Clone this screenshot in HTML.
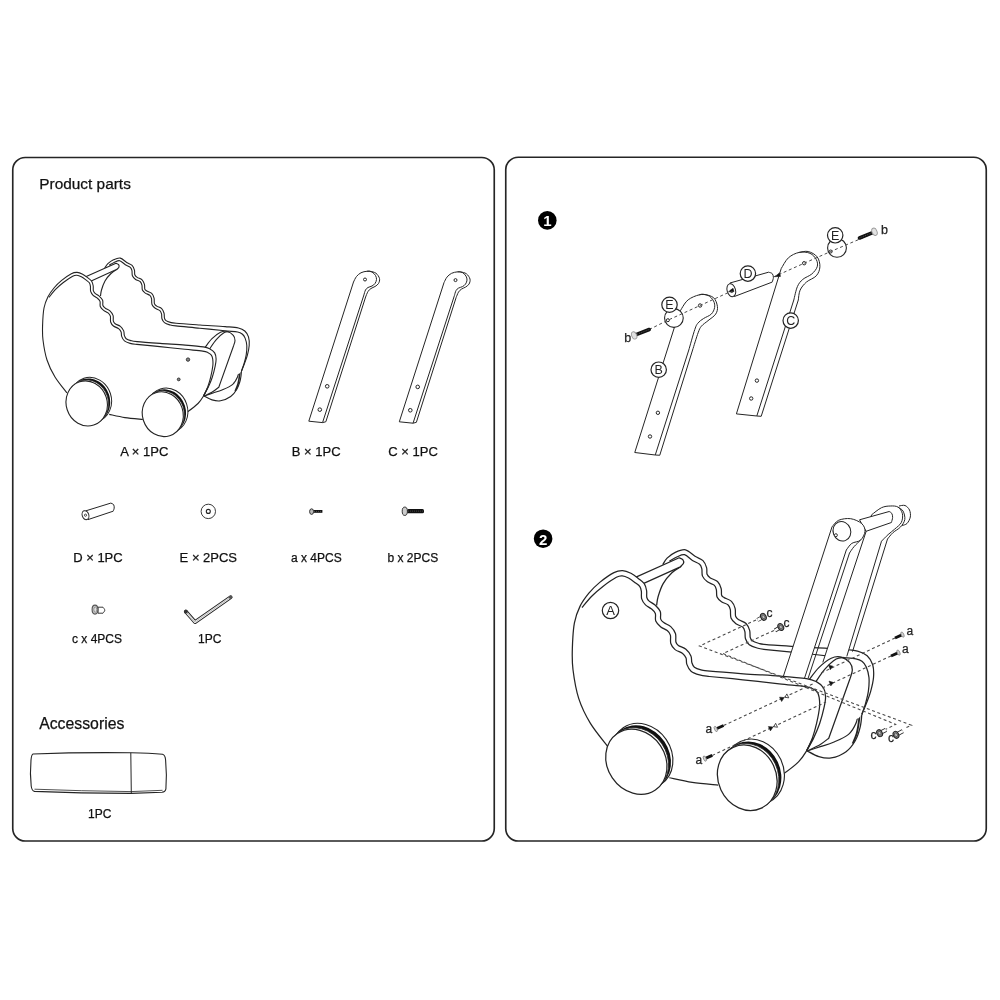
<!DOCTYPE html>
<html><head><meta charset="utf-8"><style>
html,body{margin:0;padding:0;background:#fff;}
svg{display:block;font-family:"Liberation Sans",sans-serif;will-change:transform;}
</style></head><body>
<svg width="1000" height="1000" viewBox="0 0 1000 1000">
<rect x="12.75" y="157.5" width="481.5" height="683.5" rx="12.5" fill="none" stroke="#252525" stroke-width="1.65"/>
<rect x="505.75" y="157.25" width="480.5" height="683.75" rx="12.5" fill="none" stroke="#252525" stroke-width="1.65"/>
<text x="39.3" y="189.3" font-size="15.4" text-anchor="start" font-weight="normal" fill="#111" stroke="#111" stroke-width="0.25">Product parts</text>
<text x="39.2" y="729.2" font-size="15.8" text-anchor="start" font-weight="normal" fill="#111" stroke="#111" stroke-width="0.25">Accessories</text>
<text x="120.3" y="456.2" font-size="13" text-anchor="start" font-weight="normal" fill="#111" stroke="#111" stroke-width="0.25">A × 1PC</text>
<text x="291.8" y="456.2" font-size="13" text-anchor="start" font-weight="normal" fill="#111" stroke="#111" stroke-width="0.25">B × 1PC</text>
<text x="388.3" y="456.2" font-size="13" text-anchor="start" font-weight="normal" fill="#111" stroke="#111" stroke-width="0.25">C × 1PC</text>
<text x="73.2" y="561.5" font-size="13" text-anchor="start" font-weight="normal" fill="#111" stroke="#111" stroke-width="0.25">D × 1PC</text>
<text x="179.6" y="561.5" font-size="13" text-anchor="start" font-weight="normal" fill="#111" stroke="#111" stroke-width="0.25">E × 2PCS</text>
<text x="291" y="561.5" font-size="12" text-anchor="start" font-weight="normal" fill="#111" stroke="#111" stroke-width="0.25">a x 4PCS</text>
<text x="387.5" y="561.5" font-size="12" text-anchor="start" font-weight="normal" fill="#111" stroke="#111" stroke-width="0.25">b x 2PCS</text>
<text x="72" y="642.7" font-size="12" text-anchor="start" font-weight="normal" fill="#111" stroke="#111" stroke-width="0.25">c x 4PCS</text>
<text x="198" y="642.7" font-size="12" text-anchor="start" font-weight="normal" fill="#111" stroke="#111" stroke-width="0.25">1PC</text>
<text x="88" y="818.2" font-size="12" text-anchor="start" font-weight="normal" fill="#111" stroke="#111" stroke-width="0.25">1PC</text>
<circle cx="547.3" cy="220.4" r="9.3" fill="#000"/>
<text x="547.3" y="226.3" font-size="15" text-anchor="middle" font-weight="bold" fill="#fff" stroke="#fff" stroke-width="0">1</text>
<circle cx="543.1" cy="538.7" r="9.3" fill="#000"/>
<text x="543.1" y="544.6" font-size="15" text-anchor="middle" font-weight="bold" fill="#fff" stroke="#fff" stroke-width="0">2</text>
<path d="M204.00,396.00 C205.33,396.65 209.25,399.10 212.00,399.90 C214.75,400.70 217.38,401.37 220.50,400.80 C223.62,400.23 227.95,398.47 230.70,396.50 C233.45,394.53 235.40,391.75 237.00,389.00 C238.60,386.25 239.55,383.00 240.30,380.00 C241.05,377.00 241.30,374.00 241.50,371.00 C241.70,368.00 241.50,363.50 241.50,362.00" fill="#fff" stroke="#242424" stroke-width="1.1" stroke-linejoin="round" />
<path d="M204.00,396.00 C205.50,395.50 210.00,394.00 213.00,393.00 C216.00,392.00 218.77,391.40 222.00,390.00 C225.23,388.60 229.82,386.77 232.40,384.60 C234.98,382.43 236.32,379.77 237.50,377.00 C238.68,374.23 239.17,369.50 239.50,368.00" fill="none" stroke="#242424" stroke-width="1.1" stroke-linejoin="round" />
<path d="M235.20,391.00 C235.67,389.83 237.27,386.67 238.00,384.00 C238.73,381.33 239.27,377.67 239.60,375.00 C239.93,372.33 239.93,369.17 240.00,368.00" fill="none" stroke="#242424" stroke-width="1.6500000000000001" stroke-linejoin="round" />
<path d="M104.78,267.99 C106.76,261.95 106.43,265.08 107.88,263.72 C109.32,262.36 111.41,260.74 113.47,259.81 C115.54,258.88 118.07,257.68 120.28,258.13 C122.48,258.58 124.72,261.28 126.69,262.50 C128.66,263.72 130.80,264.19 132.09,265.45 C133.39,266.71 134.00,268.51 134.45,270.06 C134.91,271.60 134.35,273.50 134.81,274.72 C135.26,275.93 135.96,276.50 137.17,277.35 C138.39,278.21 140.88,278.67 142.09,279.85 C143.30,281.04 144.00,282.91 144.45,284.46 C144.91,286.00 144.43,288.05 144.81,289.13 C145.19,290.21 145.57,290.20 146.72,290.92 C147.87,291.64 150.47,292.26 151.69,293.45 C152.91,294.65 153.61,296.40 154.06,298.08 C154.52,299.77 153.97,302.21 154.42,303.56 C154.87,304.90 155.56,305.30 156.77,306.15 C157.98,307.00 160.48,307.47 161.69,308.65 C162.90,309.84 163.60,311.70 164.05,313.26 C164.51,314.82 164.12,316.81 164.45,318.03 C164.77,319.24 165.01,319.85 165.99,320.57 C166.97,321.29 168.66,321.89 170.35,322.35 C172.04,322.80 171.17,322.86 176.13,323.31 C181.09,323.75 191.96,324.46 200.13,325.01 C208.31,325.56 218.81,326.12 225.19,326.61 C231.57,327.10 235.15,327.21 238.42,327.94 C241.69,328.67 243.12,329.48 244.80,330.98 C246.48,332.47 247.77,334.49 248.50,336.91 C249.23,339.33 249.39,342.47 249.20,345.50 C249.01,348.53 248.17,352.11 247.39,355.12 C246.60,358.13 245.47,360.92 244.49,363.56 C243.51,366.21 244.25,368.93 241.50,371.00 C238.75,373.07 243.25,373.67 228.00,376.00 C212.75,378.33 172.00,397.67 150.00,385.00 C128.00,372.33 103.54,319.50 96.00,300.00 C88.46,280.50 102.80,274.04 104.78,267.99Z" fill="#fff" stroke="none" stroke-width="0" stroke-linejoin="round" />
<path d="M104.78,267.99 C105.30,267.28 106.43,265.08 107.88,263.72 C109.32,262.36 111.41,260.74 113.47,259.81 C115.54,258.88 118.07,257.68 120.28,258.13 C122.48,258.58 124.72,261.28 126.69,262.50 C128.66,263.72 130.80,264.19 132.09,265.45 C133.39,266.71 134.00,268.51 134.45,270.06 C134.91,271.60 134.35,273.50 134.81,274.72 C135.26,275.93 135.96,276.50 137.17,277.35 C138.39,278.21 140.88,278.67 142.09,279.85 C143.30,281.04 144.00,282.91 144.45,284.46 C144.91,286.00 144.43,288.05 144.81,289.13 C145.19,290.21 145.57,290.20 146.72,290.92 C147.87,291.64 150.47,292.26 151.69,293.45 C152.91,294.65 153.61,296.40 154.06,298.08 C154.52,299.77 153.97,302.21 154.42,303.56 C154.87,304.90 155.56,305.30 156.77,306.15 C157.98,307.00 160.48,307.47 161.69,308.65 C162.90,309.84 163.60,311.70 164.05,313.26 C164.51,314.82 164.12,316.81 164.45,318.03 C164.77,319.24 165.01,319.85 165.99,320.57 C166.97,321.29 168.66,321.89 170.35,322.35 C172.04,322.80 171.17,322.86 176.13,323.31 C181.09,323.75 191.96,324.46 200.13,325.01 C208.31,325.56 218.81,326.12 225.19,326.61 C231.57,327.10 235.15,327.21 238.42,327.94 C241.69,328.67 243.12,329.48 244.80,330.98 C246.48,332.47 247.77,334.49 248.50,336.91 C249.23,339.33 249.39,342.47 249.20,345.50 C249.01,348.53 248.17,352.11 247.39,355.12 C246.60,358.13 245.47,360.92 244.49,363.56 C243.51,366.21 242.00,369.76 241.50,371.00" fill="none" stroke="#242424" stroke-width="1.1" stroke-linejoin="round" />
<path d="M109.12,265.28 C110.03,264.77 112.76,262.96 114.53,262.19 C116.29,261.42 117.93,260.25 119.72,260.67 C121.52,261.09 123.55,263.59 125.31,264.70 C127.07,265.81 129.20,266.34 130.31,267.35 C131.41,268.35 131.60,269.35 131.95,270.74 C132.29,272.13 131.78,274.23 132.39,275.68 C133.01,277.13 134.31,278.44 135.63,279.45 C136.95,280.46 139.26,280.80 140.31,281.75 C141.36,282.70 141.60,283.75 141.95,285.14 C142.29,286.53 141.83,288.75 142.39,290.07 C142.94,291.39 144.03,292.20 145.28,293.08 C146.53,293.96 148.87,294.41 149.91,295.35 C150.95,296.29 151.19,297.20 151.54,298.72 C151.88,300.23 151.36,302.86 151.98,304.44 C152.59,306.03 153.91,307.23 155.23,308.25 C156.55,309.26 158.86,309.60 159.91,310.55 C160.96,311.50 161.20,312.57 161.55,313.94 C161.89,315.31 161.48,317.33 161.95,318.77 C162.43,320.22 163.13,321.62 164.41,322.63 C165.69,323.65 167.74,324.31 169.65,324.85 C171.56,325.40 170.83,325.34 175.87,325.89 C180.91,326.45 191.71,327.38 199.87,328.19 C208.02,329.01 218.53,330.15 224.81,330.79 C231.10,331.44 234.68,331.52 237.58,332.06 C240.48,332.60 240.95,333.02 242.20,334.02 C243.46,335.03 244.33,336.18 245.10,338.09 C245.87,340.00 246.61,342.70 246.80,345.50 C246.99,348.30 246.66,351.89 246.21,354.88 C245.76,357.87 244.90,360.75 244.11,363.44 C243.32,366.12 241.94,369.74 241.50,371.00" fill="none" stroke="#242424" stroke-width="1.1" stroke-linejoin="round" />
<path d="M117.50,269.00 C116.42,269.75 113.08,271.50 111.00,273.50 C108.92,275.50 106.58,278.25 105.00,281.00 C103.42,283.75 102.25,287.50 101.50,290.00 C100.75,292.50 100.67,295.00 100.50,296.00" fill="none" stroke="#242424" stroke-width="1.1" stroke-linejoin="round" />
<path d="M84.00,277.50 L116.00,263.20 " fill="none" stroke="none" stroke-width="0" stroke-linejoin="round" />
<path d="M84.00,277.50 L116.00,263.20 C116.43,263.43 118.12,263.93 118.60,264.60 C119.08,265.27 119.27,266.37 118.90,267.20 C118.53,268.03 116.82,269.20 116.40,269.60 L89.00,282.00" fill="#fff" stroke="#242424" stroke-width="1.1" stroke-linejoin="round" />
<path d="M205.20,347.20 C206.33,345.78 209.45,341.18 212.00,338.70 C214.55,336.22 217.95,333.50 220.50,332.30 C223.05,331.10 225.17,331.00 227.30,331.50 C229.43,332.00 232.02,333.82 233.30,335.30 C234.58,336.78 234.97,338.62 235.00,340.40 C235.03,342.18 233.75,345.07 233.50,346.00 L233.50,346.00 L218.80,387.20 L218.80,387.20 C217.83,387.92 215.47,390.03 213.00,391.50 C210.53,392.97 205.50,395.25 204.00,396.00Z" fill="#fff" stroke="#242424" stroke-width="1.1" stroke-linejoin="round" />
<path d="M209.50,349.00 C210.63,347.43 213.90,342.30 216.30,339.60 C218.70,336.90 221.78,334.12 223.90,332.80 C226.02,331.48 228.15,331.88 229.00,331.70" fill="none" stroke="#242424" stroke-width="1.1" stroke-linejoin="round" />
<path d="M44.00,308.00 C44.90,303.28 46.28,300.08 47.98,296.71 C49.67,293.33 51.90,290.47 54.18,287.76 C56.46,285.05 58.80,282.78 61.66,280.44 C64.52,278.11 68.78,275.10 71.34,273.76 C73.91,272.42 75.19,272.32 77.07,272.40 C78.95,272.48 80.85,273.34 82.65,274.26 C84.44,275.17 86.35,276.73 87.85,277.89 C89.35,279.05 90.77,279.89 91.65,281.21 C92.54,282.52 92.90,284.20 93.18,285.77 C93.46,287.34 93.03,289.37 93.35,290.63 C93.67,291.88 94.15,292.43 95.08,293.30 C96.01,294.17 97.68,294.70 98.94,295.86 C100.19,297.02 101.94,298.68 102.60,300.28 C103.26,301.89 102.45,304.19 102.91,305.51 C103.37,306.83 104.20,307.31 105.37,308.21 C106.54,309.10 108.66,309.66 109.94,310.86 C111.22,312.06 112.47,313.66 113.04,315.39 C113.61,317.11 112.99,319.81 113.35,321.22 C113.70,322.62 113.99,322.93 115.17,323.80 C116.34,324.67 118.96,325.23 120.38,326.41 C121.80,327.59 123.03,329.36 123.69,330.86 C124.35,332.37 123.91,334.13 124.32,335.44 C124.74,336.75 125.09,337.85 126.18,338.71 C127.27,339.58 129.04,340.17 130.87,340.65 C132.70,341.13 132.26,341.15 137.14,341.61 C142.02,342.07 152.13,342.82 160.14,343.41 C168.15,343.99 178.00,344.53 185.19,345.11 C192.39,345.69 199.19,346.24 203.32,346.87 C207.44,347.51 208.05,347.92 209.94,348.92 C211.83,349.93 213.64,351.24 214.67,352.90 C215.70,354.56 216.01,356.64 216.09,358.86 C216.18,361.07 215.82,363.13 215.18,366.19 C214.55,369.25 213.42,373.73 212.27,377.22 C211.12,380.71 209.74,383.99 208.28,387.12 C206.81,390.25 206.88,391.79 203.50,396.00 C200.12,400.21 194.42,408.65 188.00,412.40 C181.58,416.15 172.53,417.33 165.00,418.50 C157.47,419.67 152.10,420.08 142.80,419.40 C133.50,418.72 118.50,416.97 109.20,414.40 C99.90,411.83 94.03,407.57 87.00,404.00 C79.97,400.43 72.33,397.50 67.00,393.00 C61.67,388.50 58.33,382.50 55.00,377.00 C51.67,371.50 49.00,366.17 47.00,360.00 C45.00,353.83 43.73,345.83 43.00,340.00 C42.27,334.17 42.43,330.33 42.60,325.00 C42.77,319.67 43.10,312.72 44.00,308.00Z" fill="#fff" stroke="none" stroke-width="0" stroke-linejoin="round" />
<path d="M67.00,393.00 C65.00,390.33 58.33,382.50 55.00,377.00 C51.67,371.50 49.00,366.17 47.00,360.00 C45.00,353.83 43.73,345.83 43.00,340.00 C42.27,334.17 42.43,330.33 42.60,325.00 C42.77,319.67 43.10,312.72 44.00,308.00 C44.90,303.28 46.28,300.08 47.98,296.71 C49.67,293.33 51.90,290.47 54.18,287.76 C56.46,285.05 58.80,282.78 61.66,280.44 C64.52,278.11 68.78,275.10 71.34,273.76 C73.91,272.42 75.19,272.32 77.07,272.40 C78.95,272.48 80.85,273.34 82.65,274.26 C84.44,275.17 86.35,276.73 87.85,277.89 C89.35,279.05 90.77,279.89 91.65,281.21 C92.54,282.52 92.90,284.20 93.18,285.77 C93.46,287.34 93.03,289.37 93.35,290.63 C93.67,291.88 94.15,292.43 95.08,293.30 C96.01,294.17 97.68,294.70 98.94,295.86 C100.19,297.02 101.94,298.68 102.60,300.28 C103.26,301.89 102.45,304.19 102.91,305.51 C103.37,306.83 104.20,307.31 105.37,308.21 C106.54,309.10 108.66,309.66 109.94,310.86 C111.22,312.06 112.47,313.66 113.04,315.39 C113.61,317.11 112.99,319.81 113.35,321.22 C113.70,322.62 113.99,322.93 115.17,323.80 C116.34,324.67 118.96,325.23 120.38,326.41 C121.80,327.59 123.03,329.36 123.69,330.86 C124.35,332.37 123.91,334.13 124.32,335.44 C124.74,336.75 125.09,337.85 126.18,338.71 C127.27,339.58 129.04,340.17 130.87,340.65 C132.70,341.13 132.26,341.15 137.14,341.61 C142.02,342.07 152.13,342.82 160.14,343.41 C168.15,343.99 178.00,344.53 185.19,345.11 C192.39,345.69 199.19,346.24 203.32,346.87 C207.44,347.51 208.05,347.92 209.94,348.92 C211.83,349.93 213.64,351.24 214.67,352.90 C215.70,354.56 216.01,356.64 216.09,358.86 C216.18,361.07 215.82,363.13 215.18,366.19 C214.55,369.25 213.42,373.73 212.27,377.22 C211.12,380.71 209.74,383.99 208.28,387.12 C206.81,390.25 204.30,394.52 203.50,396.00" fill="none" stroke="#242424" stroke-width="1.1" stroke-linejoin="round" />
<path d="M49.02,297.29 C50.15,295.95 53.43,291.69 55.82,289.24 C58.20,286.78 60.53,284.72 63.34,282.56 C66.15,280.39 70.39,277.46 72.66,276.24 C74.92,275.01 75.48,275.11 76.93,275.20 C78.38,275.28 79.82,275.92 81.35,276.74 C82.89,277.56 84.82,279.10 86.15,280.11 C87.48,281.12 88.63,281.77 89.35,282.79 C90.06,283.81 90.20,284.80 90.42,286.23 C90.64,287.66 90.20,289.86 90.65,291.37 C91.10,292.89 92.05,294.20 93.12,295.30 C94.19,296.39 95.92,296.94 97.06,297.94 C98.21,298.94 99.46,299.89 100.00,301.32 C100.54,302.74 99.68,304.98 100.29,306.49 C100.89,308.01 102.33,309.32 103.63,310.39 C104.92,311.47 106.94,311.97 108.06,312.94 C109.18,313.91 109.93,314.71 110.36,316.21 C110.79,317.72 110.14,320.35 110.65,321.98 C111.17,323.62 112.11,324.90 113.43,326.00 C114.76,327.10 117.34,327.60 118.62,328.59 C119.90,329.58 120.60,330.64 121.11,331.94 C121.62,333.23 121.13,334.87 121.68,336.36 C122.23,337.85 123.01,339.72 124.42,340.89 C125.83,342.05 128.06,342.77 130.13,343.35 C132.20,343.93 131.90,343.85 136.86,344.39 C141.81,344.93 151.87,345.78 159.86,346.59 C167.85,347.41 177.67,348.54 184.81,349.29 C191.94,350.05 198.81,350.56 202.68,351.13 C206.56,351.69 206.62,352.02 208.06,352.68 C209.50,353.34 210.56,354.02 211.33,355.10 C212.10,356.18 212.46,357.36 212.71,359.14 C212.95,360.93 213.14,362.87 212.82,365.81 C212.49,368.75 211.58,373.27 210.73,376.78 C209.88,380.29 208.93,383.68 207.72,386.88 C206.52,390.09 204.20,394.48 203.50,396.00" fill="none" stroke="#242424" stroke-width="1.1" stroke-linejoin="round" />
<path d="M208.00,387.00 C207.25,388.50 205.17,393.25 203.50,396.00 C201.83,398.75 200.58,400.92 198.00,403.50 C195.42,406.08 190.33,409.83 188.00,411.50 C185.67,413.17 184.67,413.17 184.00,413.50" fill="none" stroke="#242424" stroke-width="1.1" stroke-linejoin="round" />
<path d="M109.20,414.40 C111.83,414.93 119.40,416.77 125.00,417.60 C130.60,418.43 139.83,419.10 142.80,419.40" fill="none" stroke="#242424" stroke-width="1.1" stroke-linejoin="round" />
<ellipse cx="90.90" cy="399.85" rx="20.50" ry="22.75" transform="rotate(-18 90.90 399.85)" fill="#fff" stroke="#242424" stroke-width="0.9900000000000001"/>
<ellipse cx="89.50" cy="400.95" rx="20.50" ry="22.75" transform="rotate(-18 89.50 400.95)" fill="#111" stroke="none" stroke-width="0"/>
<ellipse cx="87.80" cy="402.45" rx="20.50" ry="22.75" transform="rotate(-18 87.80 402.45)" fill="#fff" stroke="#242424" stroke-width="0.66"/>
<ellipse cx="86.70" cy="403.45" rx="20.50" ry="22.75" transform="rotate(-18 86.70 403.45)" fill="#fff" stroke="#242424" stroke-width="1.1"/>
<ellipse cx="167.35" cy="410.40" rx="20.30" ry="22.60" transform="rotate(-18 167.35 410.40)" fill="#fff" stroke="#242424" stroke-width="0.9900000000000001"/>
<ellipse cx="165.55" cy="411.70" rx="20.30" ry="22.60" transform="rotate(-18 165.55 411.70)" fill="#111" stroke="none" stroke-width="0"/>
<ellipse cx="163.85" cy="413.20" rx="20.30" ry="22.60" transform="rotate(-18 163.85 413.20)" fill="#fff" stroke="#242424" stroke-width="0.66"/>
<ellipse cx="162.75" cy="414.20" rx="20.30" ry="22.60" transform="rotate(-18 162.75 414.20)" fill="#fff" stroke="#242424" stroke-width="1.1"/>
<circle cx="188.00" cy="359.60" r="1.70" fill="#888" stroke="#242424" stroke-width="0.8800000000000001"/>
<circle cx="178.70" cy="379.40" r="1.40" fill="#888" stroke="#242424" stroke-width="0.8800000000000001"/>
<path d="M308.80,421.20 L322.55,422.60 L363.90,295.00 L363.90,295.00 C364.17,294.17 364.82,291.25 365.50,290.00 C366.18,288.75 366.92,288.17 368.00,287.50 C369.08,286.83 370.83,286.67 372.00,286.00 C373.17,285.33 374.25,284.58 375.00,283.50 C375.75,282.42 376.42,280.83 376.50,279.50 C376.58,278.17 376.25,276.75 375.50,275.50 C374.75,274.25 373.42,272.71 372.00,272.00 C370.58,271.29 368.83,271.12 367.00,271.25 C365.17,271.38 362.75,271.88 361.00,272.75 C359.25,273.62 357.75,274.96 356.50,276.50 C355.25,278.04 354.00,281.08 353.50,282.00 L308.80,421.20Z" fill="#fff" stroke="#242424" stroke-width="1.0" stroke-linejoin="round" />
<path d="M322.55,422.60 L325.85,421.75 L365.60,297.00 C366.00,296.08 367.10,292.92 368.00,291.50 C368.90,290.08 369.83,289.33 371.00,288.50 C372.17,287.67 373.75,287.33 375.00,286.50 C376.25,285.67 377.75,284.83 378.50,283.50 C379.25,282.17 379.92,280.21 379.50,278.50 C379.08,276.79 377.58,274.46 376.00,273.25 C374.42,272.04 371.50,271.58 370.00,271.25 C368.50,270.92 367.50,271.25 367.00,271.25" fill="none" stroke="#242424" stroke-width="1.0" stroke-linejoin="round" />
<circle cx="365.00" cy="279.50" r="1.5" fill="#fff" stroke="#242424" stroke-width="1.0"/>
<circle cx="327.20" cy="386.30" r="1.8" fill="#fff" stroke="#242424" stroke-width="1.0"/>
<circle cx="319.80" cy="409.65" r="1.8" fill="#fff" stroke="#242424" stroke-width="1.0"/>
<path d="M399.30,421.80 L413.05,423.20 L454.40,295.60 L454.40,295.60 C454.67,294.77 455.32,291.85 456.00,290.60 C456.68,289.35 457.42,288.77 458.50,288.10 C459.58,287.43 461.33,287.27 462.50,286.60 C463.67,285.93 464.75,285.18 465.50,284.10 C466.25,283.02 466.92,281.43 467.00,280.10 C467.08,278.77 466.75,277.35 466.00,276.10 C465.25,274.85 463.92,273.31 462.50,272.60 C461.08,271.89 459.33,271.73 457.50,271.85 C455.67,271.98 453.25,272.48 451.50,273.35 C449.75,274.23 448.25,275.56 447.00,277.10 C445.75,278.64 444.50,281.68 444.00,282.60 L399.30,421.80Z" fill="#fff" stroke="#242424" stroke-width="1.0" stroke-linejoin="round" />
<path d="M413.05,423.20 L416.35,422.35 L456.10,297.60 C456.50,296.68 457.60,293.52 458.50,292.10 C459.40,290.68 460.33,289.93 461.50,289.10 C462.67,288.27 464.25,287.93 465.50,287.10 C466.75,286.27 468.25,285.43 469.00,284.10 C469.75,282.77 470.42,280.81 470.00,279.10 C469.58,277.39 468.08,275.06 466.50,273.85 C464.92,272.64 462.00,272.18 460.50,271.85 C459.00,271.52 458.00,271.85 457.50,271.85" fill="none" stroke="#242424" stroke-width="1.0" stroke-linejoin="round" />
<circle cx="455.50" cy="280.10" r="1.5" fill="#fff" stroke="#242424" stroke-width="1.0"/>
<circle cx="417.70" cy="386.90" r="1.8" fill="#fff" stroke="#242424" stroke-width="1.0"/>
<circle cx="410.30" cy="410.25" r="1.8" fill="#fff" stroke="#242424" stroke-width="1.0"/>
<path d="M85.60,510.90 L110.80,503.10 L110.80,503.10 C111.27,503.35 113.03,503.78 113.60,504.60 C114.17,505.42 114.27,506.90 114.20,508.00 C114.13,509.10 113.37,510.67 113.20,511.20 L88,519.6 Z" fill="#fff" stroke="#242424" stroke-width="1.0" stroke-linejoin="round" />
<ellipse cx="85.50" cy="515.20" rx="3.30" ry="4.60" transform="rotate(-18 85.50 515.20)" fill="#fff" stroke="#242424" stroke-width="1.0"/>
<circle cx="85.50" cy="515.20" r="1.1" fill="#fff" stroke="#242424" stroke-width="0.8"/>
<circle cx="208.3" cy="511.4" r="7.2" fill="#fff" stroke="#242424" stroke-width="0.9"/>
<circle cx="208.3" cy="511.4" r="2" fill="#fff" stroke="#242424" stroke-width="1.1"/>
<rect x="313.6" y="510" width="8.8" height="2.8" fill="#111"/>
<line x1="314" y1="511.4" x2="322" y2="511.4" stroke="#888" stroke-width="0.5" stroke-dasharray="1,1"/>
<ellipse cx="311.60" cy="511.60" rx="2.00" ry="2.80" transform="rotate(0 311.60 511.60)" fill="#bbb" stroke="#242424" stroke-width="0.9"/>
<rect x="407" y="509" width="17" height="4.2" rx="1.5" fill="#111"/>
<line x1="408" y1="511.1" x2="423" y2="511.1" stroke="#777" stroke-width="0.5" stroke-dasharray="1,1"/>
<ellipse cx="404.80" cy="511.25" rx="2.60" ry="4.20" transform="rotate(0 404.80 511.25)" fill="#ccc" stroke="#242424" stroke-width="0.9"/>
<path d="M98.00,607.20 L103.00,607.20 L103.00,607.20 C103.30,607.70 104.80,609.20 104.80,610.20 C104.80,611.20 103.30,612.70 103.00,613.20 L98,613.2 Z" fill="#fff" stroke="#242424" stroke-width="0.9" stroke-linejoin="round" />
<ellipse cx="95.00" cy="609.60" rx="2.90" ry="4.50" transform="rotate(0 95.00 609.60)" fill="#c8c8c8" stroke="#555" stroke-width="1.1"/>
<ellipse cx="95.30" cy="609.60" rx="1.50" ry="2.60" transform="rotate(0 95.30 609.60)" fill="#e0e0e0" stroke="#777" stroke-width="0.7"/>
<path d="M185.80,611.60 L195.00,622.10 L230.60,597.20" fill="none" stroke="#242424" stroke-width="3.8" stroke-linejoin="round" stroke-linecap="round"/>
<path d="M185.80,611.60 L195.00,622.10 L230.60,597.20" fill="none" stroke="#fff" stroke-width="1.9" stroke-linejoin="round" stroke-linecap="butt"/>
<path d="M185.80,611.60 L195.00,622.10 L230.60,597.20" fill="none" stroke="#777" stroke-width="0.5" stroke-linejoin="round"/>
<circle cx="185.9" cy="611.7" r="1.9" fill="#333"/>
<circle cx="230.5" cy="597.3" r="1.7" fill="#555"/>
<path d="M33,754 Q80,752.2 131,752.8 Q150,753.2 162.5,754.3 Q165.2,755 165.6,760 Q167,775 165.9,789 Q165.3,792 162,792.3 L131,793.4 Q80,793.2 34.5,791.4 Q31.8,790.8 31.2,786 Q29.8,774 31,760 Q31.5,754.6 33,754 Z" fill="#fff" stroke="#242424" stroke-width="1.1" stroke-linejoin="round" />
<path d="M34.5,789.2 Q80,791 131,791.6 L162.5,790.3" fill="none" stroke="#242424" stroke-width="0.8" stroke-linejoin="round" />
<path d="M130.8,752.8 L131.3,793.4" fill="none" stroke="#242424" stroke-width="1.0" stroke-linejoin="round" />
<path d="M634.75,452.50 L655.25,455.00 L688.80,350.00 L688.80,350.00 C689.80,346.58 693.25,334.02 694.80,329.50 C696.35,324.98 696.63,324.73 698.10,322.90 C699.57,321.07 701.40,319.97 703.60,318.50 C705.80,317.03 709.47,315.93 711.30,314.10 C713.13,312.27 714.23,309.70 714.60,307.50 C714.97,305.30 714.60,302.92 713.50,300.90 C712.40,298.88 710.38,296.41 708.00,295.40 C705.62,294.39 702.50,294.12 699.20,294.85 C695.90,295.58 691.13,297.51 688.20,299.80 C685.27,302.09 683.30,305.90 681.60,308.60 C679.90,311.30 678.60,314.77 678.00,316.00 L678.00,316.00 L634.75,452.50Z" fill="#fff" stroke="#242424" stroke-width="1.0" stroke-linejoin="round" />
<path d="M655.25,455.00 L659.75,455.25 L692.60,350.00 L692.60,350.00 C693.52,347.13 696.63,336.77 698.10,332.80 C699.57,328.83 699.75,328.22 701.40,326.20 C703.05,324.18 705.62,322.72 708.00,320.70 C710.38,318.68 714.13,316.48 715.70,314.10 C717.27,311.72 717.77,309.15 717.40,306.40 C717.03,303.65 715.80,299.62 713.50,297.60 C711.20,295.58 705.98,294.76 703.60,294.30 C701.22,293.84 699.93,294.76 699.20,294.85" fill="none" stroke="#242424" stroke-width="1.0" stroke-linejoin="round" />
<circle cx="657.90" cy="412.80" r="1.7" fill="#fff" stroke="#242424" stroke-width="1.0"/>
<circle cx="650.00" cy="436.50" r="1.7" fill="#fff" stroke="#242424" stroke-width="1.0"/>
<circle cx="700.10" cy="305.50" r="1.7" fill="#fff" stroke="#242424" stroke-width="1.0"/>
<circle cx="673.9" cy="318" r="9.35" fill="#fff" stroke="#242424" stroke-width="1.1"/>
<circle cx="667.90" cy="320.20" r="1.5" fill="#fff" stroke="#242424" stroke-width="1.0"/>
<circle cx="669.5" cy="304.75" r="7.7" fill="#fff" stroke="#242424" stroke-width="1.2"/><text x="669.5" y="309.25" text-anchor="middle" font-size="12.5" fill="#242424">E</text>
<circle cx="658.7" cy="369.7" r="7.7" fill="#fff" stroke="#242424" stroke-width="1.2"/><text x="658.7" y="374.20" text-anchor="middle" font-size="12.5" fill="#242424">B</text>
<path d="M736.40,413.90 L756.80,416.00 L793.80,300.00 L793.80,300.00 C794.40,297.77 795.90,290.03 797.40,286.60 C798.90,283.17 800.40,281.50 802.80,279.40 C805.20,277.30 809.40,276.10 811.80,274.00 C814.20,271.90 816.45,269.20 817.20,266.80 C817.95,264.40 817.50,261.85 816.30,259.60 C815.10,257.35 812.85,254.50 810.00,253.30 C807.15,252.10 802.80,251.65 799.20,252.40 C795.60,253.15 791.40,255.10 788.40,257.80 C785.40,260.50 782.40,266.80 781.20,268.60 L736.4,413.9Z" fill="#fff" stroke="#242424" stroke-width="1.0" stroke-linejoin="round" />
<path d="M756.80,416.00 L761.20,416.30 L798.30,300.00 L798.30,300.00 C798.60,298.37 798.75,293.18 800.10,290.20 C801.45,287.22 803.70,284.50 806.40,282.10 C809.10,279.70 814.05,278.35 816.30,275.80 C818.55,273.25 819.75,269.95 819.90,266.80 C820.05,263.65 819.15,259.45 817.20,256.90 C815.25,254.35 811.20,252.25 808.20,251.50 C805.20,250.75 800.70,252.25 799.20,252.40" fill="none" stroke="#242424" stroke-width="1.0" stroke-linejoin="round" />
<circle cx="804.20" cy="263.20" r="1.7" fill="#fff" stroke="#242424" stroke-width="1.0"/>
<circle cx="756.90" cy="380.60" r="1.7" fill="#fff" stroke="#242424" stroke-width="1.0"/>
<circle cx="751.20" cy="398.50" r="1.7" fill="#fff" stroke="#242424" stroke-width="1.0"/>
<circle cx="790.7" cy="320.6" r="7.7" fill="#fff" stroke="#242424" stroke-width="1.2"/><text x="790.7" y="325.10" text-anchor="middle" font-size="12.5" fill="#242424">C</text>
<path d="M729.90,283.00 L768.60,272.20 L768.60,272.20 C769.20,272.43 771.40,272.73 772.20,273.60 C773.00,274.47 773.40,275.98 773.40,277.40 C773.40,278.82 772.40,281.32 772.20,282.10 L734.4,296.5 Z" fill="#fff" stroke="#242424" stroke-width="1.0" stroke-linejoin="round" />
<ellipse cx="731.30" cy="290.20" rx="4.20" ry="6.60" transform="rotate(-16 731.30 290.20)" fill="#fff" stroke="#242424" stroke-width="1.0"/>
<circle cx="731.70" cy="291.10" r="1.4" fill="#fff" stroke="#242424" stroke-width="0.9"/>
<circle cx="747.9" cy="273.6" r="7.7" fill="#fff" stroke="#242424" stroke-width="1.2"/><text x="747.9" y="278.10" text-anchor="middle" font-size="12.5" fill="#242424">D</text>
<circle cx="837" cy="247.9" r="9.4" fill="#fff" stroke="#242424" stroke-width="1.1"/>
<circle cx="830.70" cy="251.50" r="1.5" fill="#fff" stroke="#242424" stroke-width="1.0"/>
<circle cx="835.2" cy="235.3" r="7.7" fill="#fff" stroke="#242424" stroke-width="1.2"/><text x="835.2" y="239.80" text-anchor="middle" font-size="12.5" fill="#242424">E</text>
<path d="M649.20,329.50 L667.90,320.20 L700.10,305.50 L731.50,291.10" fill="none" stroke="#4a4a4a" stroke-width="1.0" stroke-dasharray="3,2.6"/>
<path d="M773.50,277.00 L804.20,263.20 L830.70,251.50 L874.00,233.00" fill="none" stroke="#4a4a4a" stroke-width="1.0" stroke-dasharray="3,2.6"/>
<path d="M774.9,276.7 L779.5,272.8 L780.5,276.4Z" fill="#111" stroke="#242424" stroke-width="0.6" stroke-linejoin="round" />
<path d="M728.5,291.8 L733,288.2 L734,291.6Z" fill="#111" stroke="#242424" stroke-width="0.6" stroke-linejoin="round" />
<line x1="649.20" y1="329.50" x2="634.20" y2="335.40" stroke="#111" stroke-width="3.6" stroke-linecap="round"/>
<line x1="649.20" y1="329.50" x2="634.20" y2="335.40" stroke="#777" stroke-width="0.6" stroke-dasharray="1,1"/>
<ellipse cx="634.20" cy="335.40" rx="2.50" ry="3.80" transform="rotate(158.5286316760855 634.20 335.40)" fill="#e2e2e2" stroke="#999" stroke-width="0.9"/>
<line x1="859.50" y1="238.00" x2="874.50" y2="231.80" stroke="#111" stroke-width="3.6" stroke-linecap="round"/>
<line x1="859.50" y1="238.00" x2="874.50" y2="231.80" stroke="#777" stroke-width="0.6" stroke-dasharray="1,1"/>
<ellipse cx="874.50" cy="231.80" rx="2.50" ry="3.80" transform="rotate(-22.456938999942086 874.50 231.80)" fill="#e2e2e2" stroke="#999" stroke-width="0.9"/>
<text x="624.2" y="342.2" font-size="12.5" text-anchor="start" font-weight="normal" fill="#242424" stroke="#242424" stroke-width="0.25">b</text>
<text x="881" y="233.8" font-size="12.5" text-anchor="start" font-weight="normal" fill="#242424" stroke="#242424" stroke-width="0.25">b</text>
<path d="M807.22,750.98 C809.16,751.93 814.86,755.49 818.86,756.65 C822.86,757.82 826.69,758.79 831.23,757.96 C835.76,757.14 842.07,754.57 846.07,751.71 C850.07,748.85 852.91,744.80 855.24,740.80 C857.56,736.79 858.95,732.07 860.04,727.70 C861.13,723.34 861.49,718.97 861.78,714.61 C862.07,710.24 861.78,703.69 861.78,701.51" fill="#fff" stroke="#242424" stroke-width="1.25" stroke-linejoin="round" />
<path d="M807.22,750.98 C809.40,750.25 815.95,748.07 820.32,746.62 C824.68,745.16 828.71,744.29 833.41,742.25 C838.11,740.21 844.78,737.55 848.54,734.39 C852.30,731.24 854.24,727.36 855.96,723.34 C857.68,719.31 858.39,712.42 858.87,710.24" fill="none" stroke="#242424" stroke-width="1.25" stroke-linejoin="round" />
<path d="M852.62,743.70 C853.29,742.01 855.62,737.40 856.69,733.52 C857.76,729.64 858.53,724.30 859.02,720.42 C859.50,716.54 859.50,711.94 859.60,710.24" fill="none" stroke="#242424" stroke-width="1.875" stroke-linejoin="round" />
<path d="M662.76,564.64 C665.60,555.79 665.00,560.23 667.09,558.17 C669.17,556.11 672.20,553.70 675.27,552.31 C678.35,550.92 682.23,549.17 685.52,549.82 C688.81,550.48 692.12,554.45 695.03,556.25 C697.94,558.05 701.06,558.74 702.98,560.62 C704.91,562.51 705.90,565.31 706.58,567.59 C707.26,569.86 706.45,572.58 707.07,574.30 C707.69,576.02 708.58,576.68 710.32,577.89 C712.06,579.10 715.73,579.80 717.53,581.57 C719.33,583.35 720.45,586.25 721.13,588.54 C721.81,590.82 721.12,593.76 721.63,595.28 C722.14,596.79 722.55,596.60 724.19,597.61 C725.84,598.63 729.68,599.57 731.50,601.36 C733.32,603.15 734.42,605.89 735.11,608.38 C735.80,610.86 735.00,614.38 735.62,616.28 C736.24,618.18 737.10,618.60 738.84,619.80 C740.58,621.00 744.25,621.70 746.05,623.48 C747.85,625.25 748.95,628.13 749.65,630.44 C750.34,632.76 749.78,635.64 750.21,637.37 C750.65,639.09 750.89,639.79 752.26,640.77 C753.63,641.76 756.00,642.62 758.41,643.27 C760.82,643.91 759.52,644.03 766.72,644.65 C773.93,645.27 789.75,646.24 801.65,646.99 C813.55,647.73 828.82,648.42 838.13,649.10 C847.44,649.78 852.65,649.96 857.49,651.06 C862.33,652.16 864.61,653.43 867.15,655.71 C869.68,657.99 871.65,661.12 872.71,664.75 C873.77,668.38 873.86,673.04 873.51,677.50 C873.16,681.97 871.82,687.17 870.61,691.55 C869.39,695.94 867.69,699.97 866.22,703.81 C864.75,707.65 865.80,711.59 861.78,714.61 C857.77,717.62 864.33,718.49 842.14,721.88 C819.95,725.28 760.66,753.41 728.65,734.98 C696.64,716.55 661.06,639.69 650.08,611.30 C639.10,582.91 659.93,573.50 662.76,564.64Z" fill="#fff" stroke="none" stroke-width="0" stroke-linejoin="round" />
<path d="M662.76,564.64 C663.48,563.56 665.00,560.23 667.09,558.17 C669.17,556.11 672.20,553.70 675.27,552.31 C678.35,550.92 682.23,549.17 685.52,549.82 C688.81,550.48 692.12,554.45 695.03,556.25 C697.94,558.05 701.06,558.74 702.98,560.62 C704.91,562.51 705.90,565.31 706.58,567.59 C707.26,569.86 706.45,572.58 707.07,574.30 C707.69,576.02 708.58,576.68 710.32,577.89 C712.06,579.10 715.73,579.80 717.53,581.57 C719.33,583.35 720.45,586.25 721.13,588.54 C721.81,590.82 721.12,593.76 721.63,595.28 C722.14,596.79 722.55,596.60 724.19,597.61 C725.84,598.63 729.68,599.57 731.50,601.36 C733.32,603.15 734.42,605.89 735.11,608.38 C735.80,610.86 735.00,614.38 735.62,616.28 C736.24,618.18 737.10,618.60 738.84,619.80 C740.58,621.00 744.25,621.70 746.05,623.48 C747.85,625.25 748.95,628.13 749.65,630.44 C750.34,632.76 749.78,635.64 750.21,637.37 C750.65,639.09 750.89,639.79 752.26,640.77 C753.63,641.76 756.00,642.62 758.41,643.27 C760.82,643.91 759.52,644.03 766.72,644.65 C773.93,645.27 789.75,646.24 801.65,646.99 C813.55,647.73 828.82,648.42 838.13,649.10 C847.44,649.78 852.65,649.96 857.49,651.06 C862.33,652.16 864.61,653.43 867.15,655.71 C869.68,657.99 871.65,661.12 872.71,664.75 C873.77,668.38 873.86,673.04 873.51,677.50 C873.16,681.97 871.82,687.17 870.61,691.55 C869.39,695.94 867.69,699.97 866.22,703.81 C864.75,707.65 862.52,712.81 861.78,714.61" fill="none" stroke="#242424" stroke-width="1.25" stroke-linejoin="round" />
<path d="M669.45,561.12 C670.75,560.40 674.76,557.89 677.27,556.80 C679.77,555.72 681.95,554.03 684.48,554.63 C687.01,555.23 689.91,558.83 692.43,560.42 C694.95,562.02 698.04,562.79 699.61,564.20 C701.18,565.61 701.35,566.89 701.83,568.88 C702.32,570.87 701.58,573.97 702.50,576.13 C703.43,578.29 705.46,580.35 707.40,581.85 C709.35,583.36 712.66,583.82 714.16,585.15 C715.66,586.48 715.90,587.85 716.38,589.83 C716.86,591.82 716.20,595.08 717.05,597.06 C717.89,599.04 719.62,600.39 721.47,601.71 C723.31,603.02 726.65,603.63 728.13,604.94 C729.61,606.25 729.86,607.40 730.34,609.57 C730.82,611.74 730.06,615.60 731.00,617.96 C731.93,620.32 733.97,622.24 735.92,623.76 C737.87,625.27 741.18,625.73 742.68,627.06 C744.18,628.39 744.43,629.78 744.90,631.73 C745.37,633.69 744.77,636.62 745.50,638.78 C746.23,640.94 747.34,643.14 749.27,644.68 C751.20,646.22 754.26,647.20 757.09,648.01 C759.92,648.82 758.89,648.70 766.24,649.54 C773.58,650.38 789.28,651.77 801.15,653.02 C813.01,654.26 828.30,656.04 837.42,657.01 C846.54,657.99 851.75,658.10 855.89,658.84 C860.03,659.58 860.51,660.11 862.24,661.47 C863.97,662.82 865.15,664.30 866.28,666.98 C867.40,669.65 868.62,673.48 868.97,677.50 C869.32,681.52 868.96,686.75 868.38,691.10 C867.80,695.44 866.60,699.66 865.50,703.57 C864.40,707.49 862.40,712.77 861.78,714.61" fill="none" stroke="#242424" stroke-width="1.25" stroke-linejoin="round" />
<path d="M681.36,566.20 C679.79,567.29 674.94,569.83 671.90,572.74 C668.87,575.65 665.48,579.65 663.17,583.65 C660.87,587.66 659.17,593.11 658.08,596.75 C656.99,600.39 656.87,604.02 656.63,605.48" fill="none" stroke="#242424" stroke-width="1.25" stroke-linejoin="round" />
<path d="M632.62,578.56 L679.18,557.76 " fill="none" stroke="none" stroke-width="0" stroke-linejoin="round" />
<path d="M632.62,578.56 L679.18,557.76 C679.81,558.10 682.26,558.82 682.96,559.79 C683.67,560.76 683.93,562.36 683.40,563.58 C682.87,564.79 680.37,566.49 679.76,567.07 L639.89,585.11" fill="#fff" stroke="#242424" stroke-width="1.25" stroke-linejoin="round" />
<path d="M871.6,514.8 L871.60,514.80 C873.25,513.62 878.38,509.17 881.50,507.70 C884.62,506.23 887.55,506.10 890.30,506.00 C893.05,505.90 895.98,505.82 898.00,507.10 C900.02,508.38 901.85,511.13 902.40,513.70 C902.95,516.27 902.58,519.93 901.30,522.50 C900.02,525.07 896.90,527.08 894.70,529.10 C892.50,531.12 890.30,532.58 888.10,534.60 C885.90,536.62 882.60,540.10 881.50,541.20 L846.8,656.4 L852.5,651.6 L850,652 L822.8,662.4 Z" fill="#fff" stroke="none" stroke-width="0" stroke-linejoin="round" />
<path d="M871.60,514.80 C873.25,513.62 878.38,509.17 881.50,507.70 C884.62,506.23 887.55,506.10 890.30,506.00 C893.05,505.90 895.98,505.82 898.00,507.10 C900.02,508.38 901.85,511.13 902.40,513.70 C902.95,516.27 902.58,519.93 901.30,522.50 C900.02,525.07 896.90,527.08 894.70,529.10 C892.50,531.12 890.30,532.58 888.10,534.60 C885.90,536.62 882.60,540.10 881.50,541.20 L846.8,656.4" fill="none" stroke="#242424" stroke-width="1.0" stroke-linejoin="round" />
<path d="M871.6,514.8 L822.8,662.4" fill="none" stroke="#242424" stroke-width="1.0" stroke-linejoin="round" />
<path d="M898.00,507.10 C898.83,507.75 901.87,508.93 903.00,511.00 C904.13,513.07 905.22,516.83 904.80,519.50 C904.38,522.17 902.47,524.82 900.50,527.00 C898.53,529.18 895.17,530.60 893.00,532.60 C890.83,534.60 888.42,537.93 887.50,539.00 L852.5,651.6" fill="none" stroke="#242424" stroke-width="1.0" stroke-linejoin="round" />
<path d="M899.00,506.00 C900.00,505.92 903.25,504.83 905.00,505.50 C906.75,506.17 908.62,508.08 909.50,510.00 C910.38,511.92 910.72,514.75 910.30,517.00 C909.88,519.25 908.38,522.08 907.00,523.50 C905.62,524.92 902.83,525.17 902.00,525.50" fill="none" stroke="#242424" stroke-width="1.0" stroke-linejoin="round" />
<path d="M859.5,519.8 L889.2,511.5 L889.20,511.50 C889.63,511.82 891.23,512.40 891.80,513.40 C892.37,514.40 892.67,515.98 892.60,517.50 C892.53,519.02 891.60,521.67 891.40,522.50 L866.1,531.3 Z" fill="#fff" stroke="#242424" stroke-width="1.0" stroke-linejoin="round" />
<path d="M808.97,679.98 C810.61,677.91 815.15,671.22 818.86,667.61 C822.57,664.00 827.52,660.04 831.23,658.30 C834.94,656.55 838.02,656.41 841.12,657.13 C844.23,657.86 847.98,660.50 849.85,662.66 C851.72,664.82 852.28,667.49 852.33,670.08 C852.37,672.68 850.51,676.87 850.14,678.23 L850.14,678.23 L828.75,738.18 L828.75,738.18 C827.35,739.22 823.90,742.30 820.32,744.43 C816.73,746.57 809.40,749.89 807.22,750.98Z" fill="#fff" stroke="#242424" stroke-width="1.25" stroke-linejoin="round" />
<path d="M815.22,682.60 C816.87,680.32 821.62,672.85 825.12,668.92 C828.61,664.99 833.09,660.94 836.17,659.02 C839.25,657.11 842.36,657.69 843.60,657.42" fill="none" stroke="#242424" stroke-width="1.25" stroke-linejoin="round" />
<path d="M783.2,676.8 L832,526.9 L832.00,526.90 C833.10,525.80 835.48,521.67 838.60,520.30 C841.72,518.93 846.85,518.15 850.70,518.70 C854.55,519.25 859.32,521.50 861.70,523.60 C864.08,525.70 865.18,528.55 865.00,531.30 C864.82,534.05 862.80,538.08 860.60,540.10 C858.40,542.12 854.18,541.75 851.80,543.40 C849.42,545.05 847.22,548.90 846.30,550.00 L804.2,679.2 L795,684 Z" fill="#fff" stroke="none" stroke-width="0" stroke-linejoin="round" />
<path d="M783.2,676.8 L832,526.9 L832.00,526.90 C833.10,525.80 835.48,521.67 838.60,520.30 C841.72,518.93 846.85,518.15 850.70,518.70 C854.55,519.25 859.32,521.50 861.70,523.60 C864.08,525.70 865.18,528.55 865.00,531.30 C864.82,534.05 862.80,538.08 860.60,540.10 C858.40,542.12 854.18,541.75 851.80,543.40 C849.42,545.05 847.22,548.90 846.30,550.00 L804.2,679.2" fill="none" stroke="#242424" stroke-width="1.0" stroke-linejoin="round" />
<path d="M860.60,540.10 C859.50,541.20 855.85,544.55 854.00,546.70 C852.15,548.85 850.25,551.95 849.50,553.00 L807.8,679.2" fill="none" stroke="#242424" stroke-width="1.0" stroke-linejoin="round" />
<ellipse cx="841.90" cy="531.30" rx="8.80" ry="9.90" transform="rotate(-20 841.90 531.30)" fill="#fff" stroke="#242424" stroke-width="1.0"/>
<circle cx="835.90" cy="535.20" r="1.5" fill="#fff" stroke="#242424" stroke-width="0.9"/>
<path d="M574.42,622.94 C575.69,616.06 577.57,611.34 579.98,606.38 C582.39,601.42 585.59,597.17 588.88,593.17 C592.18,589.17 595.58,585.81 599.75,582.38 C603.92,578.95 610.12,574.56 613.92,572.59 C617.72,570.61 619.73,570.41 622.57,570.53 C625.40,570.65 628.26,571.95 630.93,573.30 C633.60,574.65 636.37,576.92 638.59,578.64 C640.82,580.36 642.93,581.64 644.26,583.61 C645.59,585.59 646.16,588.18 646.58,590.49 C647.01,592.81 646.38,595.73 646.81,597.50 C647.24,599.27 647.85,599.90 649.17,601.12 C650.50,602.34 652.92,603.10 654.76,604.82 C656.61,606.55 659.26,609.11 660.25,611.49 C661.24,613.87 660.07,617.22 660.71,619.10 C661.35,620.98 662.42,621.50 664.10,622.76 C665.78,624.02 668.88,624.86 670.77,626.65 C672.66,628.44 674.60,630.95 675.45,633.51 C676.31,636.07 675.42,640.01 675.91,642.00 C676.39,643.99 676.67,644.24 678.34,645.45 C680.01,646.66 683.83,647.49 685.93,649.25 C688.03,651.00 689.95,653.73 690.94,655.97 C691.93,658.21 691.29,660.81 691.87,662.67 C692.44,664.53 692.86,665.96 694.38,667.15 C695.90,668.35 698.37,669.18 700.98,669.86 C703.58,670.54 702.92,670.58 710.00,671.23 C717.08,671.88 731.81,672.96 743.46,673.76 C755.12,674.56 769.46,675.22 779.94,676.02 C790.43,676.82 800.31,677.63 806.37,678.57 C812.42,679.51 813.42,680.13 816.27,681.66 C819.12,683.20 821.93,685.25 823.47,687.79 C825.02,690.33 825.47,693.56 825.56,696.88 C825.65,700.19 825.01,703.21 824.01,707.69 C823.02,712.17 821.33,718.68 819.59,723.75 C817.85,728.82 815.75,733.57 813.56,738.11 C811.38,742.64 811.43,744.86 806.49,750.98 C801.56,757.10 793.28,769.39 783.94,774.84 C774.60,780.30 761.44,782.02 750.48,783.72 C739.51,785.41 731.71,786.02 718.17,785.03 C704.64,784.03 682.82,781.49 669.29,777.75 C655.75,774.02 647.22,767.81 636.99,762.62 C626.75,757.43 615.64,753.16 607.88,746.62 C600.12,740.07 595.27,731.34 590.42,723.34 C585.57,715.33 581.69,707.57 578.78,698.60 C575.88,689.63 574.03,677.99 572.97,669.50 C571.90,661.01 572.14,655.43 572.38,647.67 C572.63,639.91 573.15,629.82 574.42,622.94Z" fill="#fff" stroke="none" stroke-width="0" stroke-linejoin="round" />
<path d="M607.88,746.62 C604.98,742.74 595.27,731.34 590.42,723.34 C585.57,715.33 581.69,707.57 578.78,698.60 C575.88,689.63 574.03,677.99 572.97,669.50 C571.90,661.01 572.14,655.43 572.38,647.67 C572.63,639.91 573.15,629.82 574.42,622.94 C575.69,616.06 577.57,611.34 579.98,606.38 C582.39,601.42 585.59,597.17 588.88,593.17 C592.18,589.17 595.58,585.81 599.75,582.38 C603.92,578.95 610.12,574.56 613.92,572.59 C617.72,570.61 619.73,570.41 622.57,570.53 C625.40,570.65 628.26,571.95 630.93,573.30 C633.60,574.65 636.37,576.92 638.59,578.64 C640.82,580.36 642.93,581.64 644.26,583.61 C645.59,585.59 646.16,588.18 646.58,590.49 C647.01,592.81 646.38,595.73 646.81,597.50 C647.24,599.27 647.85,599.90 649.17,601.12 C650.50,602.34 652.92,603.10 654.76,604.82 C656.61,606.55 659.26,609.11 660.25,611.49 C661.24,613.87 660.07,617.22 660.71,619.10 C661.35,620.98 662.42,621.50 664.10,622.76 C665.78,624.02 668.88,624.86 670.77,626.65 C672.66,628.44 674.60,630.95 675.45,633.51 C676.31,636.07 675.42,640.01 675.91,642.00 C676.39,643.99 676.67,644.24 678.34,645.45 C680.01,646.66 683.83,647.49 685.93,649.25 C688.03,651.00 689.95,653.73 690.94,655.97 C691.93,658.21 691.29,660.81 691.87,662.67 C692.44,664.53 692.86,665.96 694.38,667.15 C695.90,668.35 698.37,669.18 700.98,669.86 C703.58,670.54 702.92,670.58 710.00,671.23 C717.08,671.88 731.81,672.96 743.46,673.76 C755.12,674.56 769.46,675.22 779.94,676.02 C790.43,676.82 800.31,677.63 806.37,678.57 C812.42,679.51 813.42,680.13 816.27,681.66 C819.12,683.20 821.93,685.25 823.47,687.79 C825.02,690.33 825.47,693.56 825.56,696.88 C825.65,700.19 825.01,703.21 824.01,707.69 C823.02,712.17 821.33,718.68 819.59,723.75 C817.85,728.82 815.75,733.57 813.56,738.11 C811.38,742.64 807.67,748.83 806.49,750.98" fill="none" stroke="#242424" stroke-width="1.25" stroke-linejoin="round" />
<path d="M581.96,607.49 C583.62,605.57 588.47,599.48 591.97,595.96 C595.46,592.44 598.85,589.50 602.93,586.38 C607.00,583.27 613.17,579.02 616.40,577.26 C619.63,575.50 620.29,575.70 622.30,575.82 C624.32,575.95 626.31,576.83 628.49,578.00 C630.67,579.17 633.48,581.41 635.38,582.85 C637.28,584.28 638.90,585.19 639.89,586.61 C640.89,588.03 641.05,589.31 641.36,591.37 C641.66,593.42 641.02,596.66 641.71,598.91 C642.39,601.17 643.87,603.25 645.46,604.89 C647.04,606.54 649.57,607.33 651.22,608.76 C652.86,610.18 654.57,611.40 655.33,613.44 C656.08,615.47 654.84,618.72 655.75,620.96 C656.66,623.21 658.88,625.30 660.80,626.90 C662.71,628.50 665.62,629.22 667.22,630.58 C668.82,631.94 669.79,632.93 670.39,635.07 C670.99,637.22 670.03,641.03 670.81,643.46 C671.59,645.88 673.10,647.96 675.07,649.61 C677.04,651.26 680.79,651.98 682.62,653.38 C684.44,654.78 685.34,656.17 686.05,658.01 C686.76,659.84 686.03,662.19 686.86,664.40 C687.69,666.61 688.92,669.50 691.04,671.26 C693.16,673.02 696.51,674.09 699.58,674.96 C702.65,675.84 702.24,675.70 709.47,676.50 C716.69,677.30 731.31,678.55 742.94,679.79 C754.56,681.03 768.84,682.79 779.21,683.93 C789.58,685.07 799.58,685.81 805.16,686.62 C810.75,687.42 810.72,687.88 812.72,688.77 C814.72,689.66 816.08,690.51 817.16,691.95 C818.23,693.39 818.75,694.91 819.15,697.41 C819.54,699.92 819.94,702.72 819.53,706.97 C819.12,711.22 817.85,717.80 816.68,722.92 C815.51,728.04 814.21,732.99 812.52,737.66 C810.82,742.34 807.50,748.76 806.49,750.98" fill="none" stroke="#242424" stroke-width="1.25" stroke-linejoin="round" />
<path d="M813.04,737.88 C811.95,740.07 808.92,746.98 806.49,750.98 C804.07,754.98 802.25,758.13 798.49,761.89 C794.73,765.65 787.34,771.11 783.94,773.53 C780.55,775.96 779.09,775.96 778.12,776.44" fill="none" stroke="#242424" stroke-width="1.25" stroke-linejoin="round" />
<path d="M669.29,777.75 C673.12,778.53 684.13,781.20 692.27,782.41 C700.42,783.62 713.86,784.59 718.17,785.03" fill="none" stroke="#242424" stroke-width="1.25" stroke-linejoin="round" />
<ellipse cx="642.25" cy="755.85" rx="29.00" ry="34.00" transform="rotate(-34 642.25 755.85)" fill="#fff" stroke="#242424" stroke-width="1.125"/>
<ellipse cx="640.35" cy="757.75" rx="29.00" ry="34.00" transform="rotate(-34 640.35 757.75)" fill="#111" stroke="none" stroke-width="0"/>
<ellipse cx="637.95" cy="760.15" rx="29.00" ry="34.00" transform="rotate(-34 637.95 760.15)" fill="#fff" stroke="#242424" stroke-width="0.75"/>
<ellipse cx="636.35" cy="761.75" rx="29.00" ry="34.00" transform="rotate(-34 636.35 761.75)" fill="#fff" stroke="#242424" stroke-width="1.25"/>
<ellipse cx="754.55" cy="771.85" rx="29.00" ry="33.50" transform="rotate(-25 754.55 771.85)" fill="#fff" stroke="#242424" stroke-width="1.125"/>
<ellipse cx="751.55" cy="774.15" rx="29.00" ry="33.50" transform="rotate(-25 751.55 774.15)" fill="#111" stroke="none" stroke-width="0"/>
<ellipse cx="749.05" cy="776.25" rx="29.00" ry="33.50" transform="rotate(-25 749.05 776.25)" fill="#fff" stroke="#242424" stroke-width="0.75"/>
<ellipse cx="747.25" cy="777.75" rx="29.00" ry="33.50" transform="rotate(-25 747.25 777.75)" fill="#fff" stroke="#242424" stroke-width="1.25"/>
<circle cx="610.5" cy="610.5" r="8.2" fill="#fff" stroke="#242424" stroke-width="1.2"/><text x="610.5" y="615.00" text-anchor="middle" font-size="13" fill="#242424">A</text>
<path d="M756.00,620.00 L699.50,646.00 L911.60,725.20 L906.00,727.60" fill="none" stroke="#4a4a4a" stroke-width="1.1" stroke-dasharray="3,2.6"/>
<path d="M774.00,630.50 L723.00,653.50 L895.60,724.40 L886.00,729.20" fill="none" stroke="#4a4a4a" stroke-width="1.1" stroke-dasharray="3,2.6"/>
<path d="M723.60,725.50 L815.00,683.00" fill="none" stroke="#4a4a4a" stroke-width="1.1" stroke-dasharray="3,2.6"/>
<path d="M712.30,755.40 L826.00,702.00" fill="none" stroke="#4a4a4a" stroke-width="1.1" stroke-dasharray="3,2.6"/>
<path d="M895.00,638.00 L821.00,673.00" fill="none" stroke="#4a4a4a" stroke-width="1.1" stroke-dasharray="3,2.6"/>
<path d="M891.00,656.00 L822.00,688.00" fill="none" stroke="#4a4a4a" stroke-width="1.1" stroke-dasharray="3,2.6"/>
<path d="M828.5,664.9 L833.0,666.1999999999999 L830.3,669.8Z" fill="#111" stroke="#242424" stroke-width="0.5" stroke-linejoin="round" />
<path d="M829,681.1 L833.5,682.4 L830.8,686.0Z" fill="#111" stroke="#242424" stroke-width="0.5" stroke-linejoin="round" />
<path d="M781.63,701.48 L779.57,697.16 L784.20,697.60Z" fill="#111" stroke="#242424" stroke-width="0.6" stroke-linejoin="round" />
<path d="M788.75,697.86 L786.85,693.90 L784.92,697.26Z" fill="#fff" stroke="#242424" stroke-width="0.8" stroke-linejoin="round" />
<path d="M770.43,730.88 L768.37,726.56 L773.00,727.00Z" fill="#111" stroke="#242424" stroke-width="0.6" stroke-linejoin="round" />
<path d="M777.55,727.26 L775.65,723.30 L773.72,726.66Z" fill="#fff" stroke="#242424" stroke-width="0.8" stroke-linejoin="round" />
<line x1="763.40" y1="616.80" x2="757.50" y2="620.00" stroke="#242424" stroke-width="4.2" stroke-linecap="butt"/>
<line x1="763.40" y1="616.80" x2="757.50" y2="620.00" stroke="#fff" stroke-width="2.6" stroke-linecap="butt"/>
<ellipse cx="763.40" cy="616.80" rx="2.60" ry="3.60" transform="rotate(-28 763.40 616.80)" fill="#888" stroke="#242424" stroke-width="1.1"/>
<ellipse cx="763.40" cy="616.80" rx="1.30" ry="2.00" transform="rotate(-28 763.40 616.80)" fill="#bbb" stroke="#242424" stroke-width="0.5"/>
<line x1="780.80" y1="627.00" x2="775.00" y2="630.50" stroke="#242424" stroke-width="4.2" stroke-linecap="butt"/>
<line x1="780.80" y1="627.00" x2="775.00" y2="630.50" stroke="#fff" stroke-width="2.6" stroke-linecap="butt"/>
<ellipse cx="780.80" cy="627.00" rx="2.60" ry="3.60" transform="rotate(-28 780.80 627.00)" fill="#888" stroke="#242424" stroke-width="1.1"/>
<ellipse cx="780.80" cy="627.00" rx="1.30" ry="2.00" transform="rotate(-28 780.80 627.00)" fill="#bbb" stroke="#242424" stroke-width="0.5"/>
<line x1="879.60" y1="733.20" x2="886.00" y2="729.80" stroke="#242424" stroke-width="4.2" stroke-linecap="butt"/>
<line x1="879.60" y1="733.20" x2="886.00" y2="729.80" stroke="#fff" stroke-width="2.6" stroke-linecap="butt"/>
<ellipse cx="879.60" cy="733.20" rx="2.60" ry="3.60" transform="rotate(-28 879.60 733.20)" fill="#888" stroke="#242424" stroke-width="1.1"/>
<ellipse cx="879.60" cy="733.20" rx="1.30" ry="2.00" transform="rotate(-28 879.60 733.20)" fill="#bbb" stroke="#242424" stroke-width="0.5"/>
<line x1="896.00" y1="734.80" x2="902.80" y2="731.20" stroke="#242424" stroke-width="4.2" stroke-linecap="butt"/>
<line x1="896.00" y1="734.80" x2="902.80" y2="731.20" stroke="#fff" stroke-width="2.6" stroke-linecap="butt"/>
<ellipse cx="896.00" cy="734.80" rx="2.60" ry="3.60" transform="rotate(-28 896.00 734.80)" fill="#888" stroke="#242424" stroke-width="1.1"/>
<ellipse cx="896.00" cy="734.80" rx="1.30" ry="2.00" transform="rotate(-28 896.00 734.80)" fill="#bbb" stroke="#242424" stroke-width="0.5"/>
<text x="766.5" y="616.6" font-size="12" text-anchor="start" font-weight="normal" fill="#242424" stroke="#242424" stroke-width="0.25">c</text>
<text x="783.6" y="626.8" font-size="12" text-anchor="start" font-weight="normal" fill="#242424" stroke="#242424" stroke-width="0.25">c</text>
<text x="870.4" y="738.9" font-size="12" text-anchor="start" font-weight="normal" fill="#242424" stroke="#242424" stroke-width="0.25">c</text>
<text x="888" y="741.7" font-size="12" text-anchor="start" font-weight="normal" fill="#242424" stroke="#242424" stroke-width="0.25">c</text>
<line x1="895.00" y1="638.00" x2="902.50" y2="634.60" stroke="#111" stroke-width="3" stroke-linecap="butt"/>
<ellipse cx="902.50" cy="634.60" rx="1.30" ry="2.80" transform="rotate(-24.38637110180124 902.50 634.60)" fill="#d5d5d5" stroke="#888" stroke-width="0.8"/>
<line x1="891.00" y1="656.00" x2="898.50" y2="652.60" stroke="#111" stroke-width="3" stroke-linecap="butt"/>
<ellipse cx="898.50" cy="652.60" rx="1.30" ry="2.80" transform="rotate(-24.38637110180124 898.50 652.60)" fill="#d5d5d5" stroke="#888" stroke-width="0.8"/>
<line x1="723.60" y1="725.50" x2="715.80" y2="729.00" stroke="#111" stroke-width="3" stroke-linecap="butt"/>
<ellipse cx="715.80" cy="729.00" rx="1.30" ry="2.80" transform="rotate(155.8333701570147 715.80 729.00)" fill="#d5d5d5" stroke="#888" stroke-width="0.8"/>
<line x1="712.30" y1="755.40" x2="704.80" y2="758.60" stroke="#111" stroke-width="3" stroke-linecap="butt"/>
<ellipse cx="704.80" cy="758.60" rx="1.30" ry="2.80" transform="rotate(156.89367314172813 704.80 758.60)" fill="#d5d5d5" stroke="#888" stroke-width="0.8"/>
<text x="906.5" y="634.8" font-size="12" text-anchor="start" font-weight="normal" fill="#242424" stroke="#242424" stroke-width="0.25">a</text>
<text x="902" y="653.3" font-size="12" text-anchor="start" font-weight="normal" fill="#242424" stroke="#242424" stroke-width="0.25">a</text>
<text x="705.5" y="732.7" font-size="12" text-anchor="start" font-weight="normal" fill="#242424" stroke="#242424" stroke-width="0.25">a</text>
<text x="695.5" y="764.3" font-size="12" text-anchor="start" font-weight="normal" fill="#242424" stroke="#242424" stroke-width="0.25">a</text>
</svg></body></html>
